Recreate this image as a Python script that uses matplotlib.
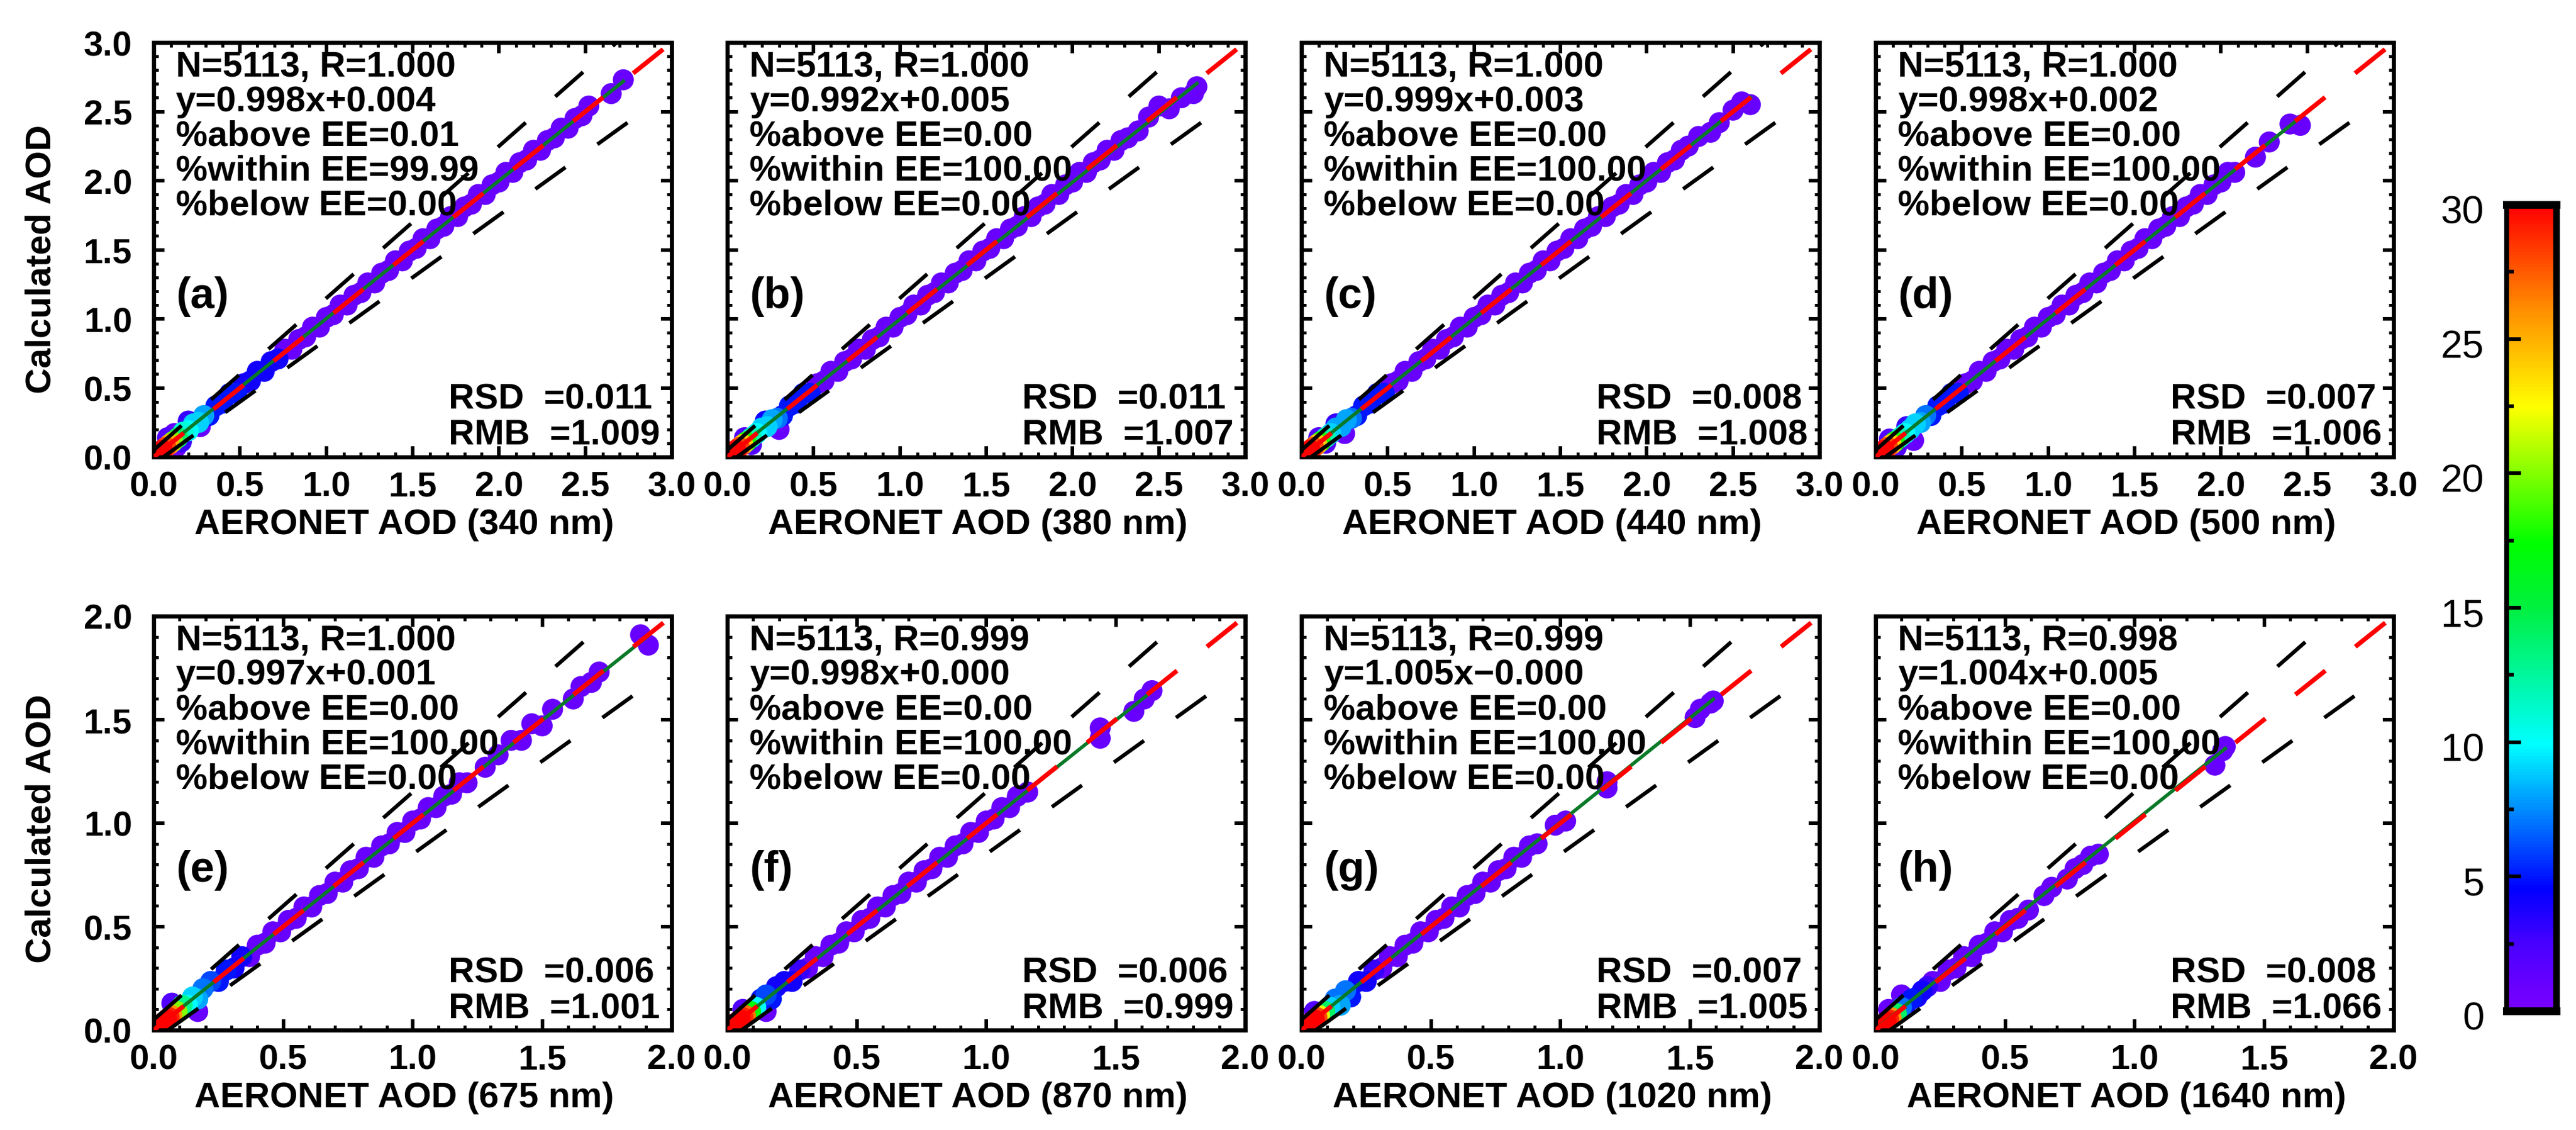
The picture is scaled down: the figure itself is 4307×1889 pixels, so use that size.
import numpy as np
import matplotlib
matplotlib.use("Agg")
import matplotlib.pyplot as plt
from matplotlib.colors import LinearSegmentedColormap
from matplotlib.ticker import MultipleLocator
from matplotlib.transforms import ScaledTranslation

plt.rcParams["font.family"] = ["Liberation Sans", "DejaVu Sans"]

W, H = 4307, 1890

panel_tags = ["(a)", "(b)", "(c)", "(d)", "(e)", "(f)", "(g)", "(h)"]
wavelengths = [340, 380, 440, 500, 675, 870, 1020, 1640]
r_values = ["1.000", "1.000", "1.000", "1.000", "1.000", "0.999", "0.999", "0.998"]
fit_labels = ["y=0.998x+0.004", "y=0.992x+0.005", "y=0.999x+0.003", "y=0.998x+0.002",
              "y=0.997x+0.001", "y=0.998x+0.000", "y=1.005x\u22120.000", "y=1.004x+0.005"]
slopes = [0.998, 0.992, 0.999, 0.998, 0.997, 0.998, 1.005, 1.004]
intercepts = [0.004, 0.005, 0.003, 0.002, 0.001, 0.000, -0.000, 0.005]
above_ee = ["0.01", "0.00", "0.00", "0.00", "0.00", "0.00", "0.00", "0.00"]
within_ee = ["99.99", "100.00", "100.00", "100.00", "100.00", "100.00", "100.00", "100.00"]
below_ee = ["0.00", "0.00", "0.00", "0.00", "0.00", "0.00", "0.00", "0.00"]
rsd_values = ["0.011", "0.011", "0.008", "0.007", "0.006", "0.006", "0.007", "0.008"]
rmb_values = ["1.009", "1.007", "1.008", "1.006", "1.001", "0.999", "1.005", "1.066"]

# the continuous run of points along the diagonal, top row (0-3) and bottom row (0-2)
top_band_x = [.32, .36, .40, .44, .48, .52, .56, .60, .64, .68, .72, .76, .80, .84, .88, .92, .96, 1.00, 1.04, 1.08,
              1.12, 1.16, 1.20, 1.24, 1.28, 1.32, 1.36, 1.40, 1.44, 1.48, 1.52, 1.56, 1.60, 1.64, 1.68, 1.72, 1.76,
              1.80, 1.84, 1.88, 1.92, 1.96, 2.00, 2.04, 2.08, 2.12, 2.16, 2.20, 2.24, 2.28, 2.32, 2.36, 2.40, 2.44,
              2.48, 2.52]
top_band_y = [.30, .37, .39, .46, .46, .53, .55, .62, .62, .69, .71, .78, .78, .85, .87, .94, .94, 1.01, 1.03, 1.10,
              1.10, 1.17, 1.19, 1.26, 1.26, 1.33, 1.35, 1.42, 1.42, 1.49, 1.51, 1.58, 1.58, 1.65, 1.67, 1.74, 1.74,
              1.81, 1.83, 1.90, 1.90, 1.97, 1.99, 2.06, 2.06, 2.13, 2.15, 2.22, 2.22, 2.29, 2.31, 2.38, 2.38, 2.45,
              2.47, 2.54]
low_band_x = [.22, .25, .28, .31, .34, .37, .40, .43, .46, .49, .52, .55, .58, .61, .64, .67, .70, .73, .76, .79,
              .82, .85, .88, .91, .94, .97, 1.00, 1.03, 1.06, 1.09, 1.12, 1.15, 1.18, 1.21]
low_band_y = [.235, .235, .29, .30, .355, .355, .41, .42, .475, .475, .53, .54, .595, .595, .65, .66, .715, .715,
              .77, .78, .835, .835, .89, .90, .955, .955, 1.01, 1.02, 1.075, 1.075, 1.13, 1.14, 1.195, 1.195]

# the rest: AERONET, calculated, density
a_x = [.27, .12, .08, .13, .20, .16, .03, .05, .07, .09, .11, .14, .17, .20, .23, .26, .29] + top_band_x + [2.65, 2.72]
a_y = [.22, .17, .14, .07, .26, .11, .03, .05, .07, .09, .11, .14, .18, .19, .24, .25, .30] + top_band_y + [2.63, 2.73]
a_d = [1, 1, 2, 1, 3, 3, 30, 30, 28, 25, 20, 14, 11, 10, 9, 9, 8] + [5] * 5 + [4] * 6 + [1] * 47

b_x = [.30, .10, .14, .22, .03, .05, .07, .09, .11, .14, .17, .20, .23, .26, .29] + top_band_x[:51] + [2.38, 2.44, 2.50, 2.56, 2.63, 2.70, 2.72]
b_y = [.20, .14, .09, .26, .03, .05, .07, .09, .11, .14, .17, .21, .22, .27, .28] + top_band_y[:51] + [2.36, 2.46, 2.54, 2.52, 2.60, 2.63, 2.68]
b_d = [1, 2, 2, 4, 30, 30, 28, 24, 18, 12, 10, 9, 9, 8, 7] + [5] * 5 + [1] * 53

c_x = [.25, .10, .14, .20, .03, .05, .07, .09, .11, .14, .17, .20, .23, .26, .29] + top_band_x[:48] + [2.24, 2.30, 2.37, 2.42, 2.50, 2.55, 2.60]
c_y = [.17, .14, .10, .24, .03, .05, .07, .09, .11, .14, .17, .21, .22, .27, .28] + top_band_y[:48] + [2.25, 2.32, 2.35, 2.42, 2.51, 2.57, 2.55]
c_d = [1, 2, 2, 3, 30, 30, 28, 24, 18, 12, 9, 8, 8, 8, 7] + [5] * 5 + [1] * 50

d_x = [.22, .08, .12, .18, .03, .05, .07, .09, .11, .14, .17, .20, .23, .26, .29] + top_band_x[:45] + [2.20, 2.28, 2.40, 2.46]
d_y = [.12, .13, .07, .22, .03, .05, .07, .09, .11, .14, .17, .20, .24, .25, .30] + top_band_y[:45] + [2.17, 2.28, 2.41, 2.40]
d_d = [1, 2, 2, 3, 30, 30, 28, 24, 18, 12, 10, 9, 9, 8, 7] + [5] * 5 + [1] * 44

e_x = [.17, .07, .02, .03, .04, .05, .06, .07, .09, .11, .13, .15, .17, .19] + low_band_x + [1.28, 1.33, 1.38, 1.42, 1.46, 1.50, 1.54, 1.62, 1.65, 1.69, 1.72, 1.88, 1.91]
e_y = [.09, .13, .02, .03, .04, .05, .06, .07, .09, .12, .12, .16, .15, .20] + low_band_y + [1.27, 1.33, 1.40, 1.40, 1.48, 1.47, 1.55, 1.60, 1.66, 1.68, 1.73, 1.91, 1.86]
e_d = [1, 2, 30, 30, 30, 30, 29, 26, 20, 13, 10, 9, 8, 7] + [6, 5, 5, 4, 4] + [1] * 42

f_x = [.15, .06, .02, .03, .04, .05, .06, .07, .09, .11, .13, .15, .17, .19] + low_band_x[:31] + [1.16, 1.44, 1.44, 1.57, 1.61, 1.64]
f_y = [.09, .10, .02, .03, .04, .05, .06, .07, .09, .11, .15, .17, .15, .21] + low_band_y[:31] + [1.15, 1.46, 1.41, 1.54, 1.60, 1.64]
f_d = [1, 2, 30, 30, 30, 30, 29, 27, 17, 10, 5, 6, 5, 4] + [4, 4, 3] + [1] * 34

g_x = [.05, .02, .03, .04, .05, .06, .07, .09, .11, .13, .15, .17, .19] + low_band_x[:24] + [.98, 1.02, 1.18, 1.18, 1.52, 1.54, 1.58, 1.59]
g_y = [.09, .02, .03, .04, .05, .06, .07, .09, .11, .15, .12, .19, .16] + low_band_y[:24] + [.99, 1.01, 1.20, 1.17, 1.51, 1.55, 1.58, 1.59]
g_d = [2, 30, 30, 30, 30, 28, 22, 14, 9, 7, 8, 7, 5] + [4, 4, 3] + [1] * 29

h_x = [.05, .10, .02, .03, .04, .05, .06, .08, .10, .12, .14, .16, .18, .20] + low_band_x[:12] + [.59, .65, .68, .74, .77, .80, .83, .86, 1.31, 1.34, 1.35]
h_y = [.10, .17, .02, .03, .04, .05, .06, .08, .11, .13, .15, .16, .19, .21] + low_band_y[:12] + [.58, .65, .69, .73, .78, .80, .84, .85, 1.28, 1.35, 1.37]
h_d = [1, 1, 30, 30, 30, 29, 26, 14, 7, 4, 5, 4, 4, 3] + [1] * 23

panel_x = [a_x, b_x, c_x, d_x, e_x, f_x, g_x, h_x]
panel_y = [a_y, b_y, c_y, d_y, e_y, f_y, g_y, h_y]
panel_d = [a_d, b_d, c_d, d_d, e_d, f_d, g_d, h_d]

# rainbow of the colour bar, purple at 0 and red at 30
density_cmap = LinearSegmentedColormap.from_list(
    "density",
    [(0.0, "#7a00ff"), (0.08, "#4a00ff"), (0.15, "#0000ff"), (0.33, "#00ffff"),
     (0.5, "#00f040"), (0.58, "#00ff00"), (0.75, "#ffff00"), (0.87, "#ff9000"), (1.0, "#ff0000")])


def px_axes(fig, left, top, right, bottom):
    return fig.add_axes([left / W, 1 - bottom / H, (right - left) / W, (bottom - top) / H])


def draw_panel(ax, i, limit, top_h):
    xs, ys, ds = np.array(panel_x[i]), np.array(panel_y[i]), np.array(panel_d[i])
    order = np.argsort(ds)
    ax.scatter(xs[order], ys[order], c=ds[order], s=640, cmap=density_cmap, vmin=0, vmax=30,
               linewidths=0, zorder=2)

    fit_x = np.array([xs.min(), xs.max()])
    ax.plot(fit_x, slopes[i] * fit_x + intercepts[i], color="#0a7a28", lw=4.2, zorder=3)

    # expected error envelope, y = 1.1x + 0.05 and y = 0.9x - 0.05
    upper_x = np.array([0, (limit - 0.05) / 1.1])
    ax.plot(upper_x, 1.1 * upper_x + 0.05, color="black", lw=4.6, zorder=4,
            ls=(0, (9.7, 10.3)), dash_capstyle="butt")
    lower_x = np.array([0.05 / 0.9, limit - 0.1])
    ax.plot(lower_x, 0.9 * lower_x - 0.05, color="black", lw=4.6, zorder=4,
            ls=(0, (9.7, 10.3)), dash_capstyle="butt")
    ax.plot([0, limit], [0, limit], color="#ff0000", lw=5.5, zorder=5,
            ls=(0, (8.4, 8.4)), dash_capstyle="butt")

    ax.set_xlim(0, limit)
    ax.set_ylim(0, limit)
    ax.xaxis.set_major_locator(MultipleLocator(0.5))
    ax.yaxis.set_major_locator(MultipleLocator(0.5))
    ax.xaxis.set_minor_locator(MultipleLocator(0.1))
    ax.yaxis.set_minor_locator(MultipleLocator(0.1))
    ax.xaxis.set_major_formatter("{x:.1f}")
    ax.yaxis.set_major_formatter("{x:.1f}")
    ax.tick_params(which="major", direction="in", top=True, right=True, length=13, width=4.3,
                   labelsize=42, pad=16)
    ax.tick_params(which="minor", direction="in", top=True, right=True, length=5.5, width=3.6)
    ax.tick_params(axis="y", which="major", pad=26)
    for label in ax.get_xticklabels() + ax.get_yticklabels():
        label.set_fontweight("bold")
    if i % 4 != 0:
        ax.tick_params(axis="y", labelleft=False)
    for spine in ax.spines.values():
        spine.set_linewidth(5)

    lines = [f"N=5113, R={r_values[i]}", fit_labels[i], f"%above EE={above_ee[i]}",
             f"%within EE={within_ee[i]}", f"%below EE={below_ee[i]}"]
    for k, line in enumerate(lines):
        ax.text(37 / 866, 1 - (40 + 58 * k) / top_h, line, transform=ax.transAxes, fontsize=43,
                fontweight="bold", va="center", zorder=6)
    ax.text(37 / 866, 1 - 424 / top_h, panel_tags[i], transform=ax.transAxes, fontsize=52,
            fontweight="bold", va="center", zorder=6)
    ax.text(493 / 866, 1 - 596 / top_h, f"RSD  ={rsd_values[i]}", transform=ax.transAxes,
            fontsize=43, fontweight="bold", va="center", zorder=6)
    ax.text(493 / 866, 1 - 656 / top_h, f"RMB  ={rmb_values[i]}", transform=ax.transAxes,
            fontsize=43, fontweight="bold", va="center", zorder=6)
    ax.set_xlabel(f"AERONET AOD ({wavelengths[i]} nm)", fontsize=43, fontweight="bold",
                  labelpad=6, x=0.484)


fig = plt.figure(figsize=(W / 100, H / 100), dpi=100)

lefts = [257, 1216, 2176, 3136]
for i in range(8):
    col = i % 4
    if i < 4:
        ax = px_axes(fig, lefts[col], 72, lefts[col] + 866, 765)
        draw_panel(ax, i, 3.0, 693)
    else:
        ax = px_axes(fig, lefts[col], 1031, lefts[col] + 866, 1723)
        draw_panel(ax, i, 2.0, 692)

fig.text(69 / W, 1 - 433 / H, "Calculated AOD", rotation=90, fontsize=43, fontweight="bold",
         ha="center", va="center")
fig.text(69 / W, 1 - 1385 / H, "Calculated AOD", rotation=90, fontsize=43, fontweight="bold",
         ha="center", va="center")

# colour bar
cax = px_axes(fig, 4191, 343, 4274, 1691)
gradient = np.linspace(0, 30, 256).reshape(-1, 1)
cax.imshow(gradient, cmap=density_cmap, vmin=0, vmax=30, origin="lower", aspect="auto",
           extent=[0, 1, 0, 30])
cax.set_xticks([])
cax.yaxis.set_major_locator(MultipleLocator(5))
cax.yaxis.set_minor_locator(MultipleLocator(2.5))
cax.tick_params(axis="y", which="major", direction="in", length=17, width=4.5, labelsize=47, pad=27)
cax.tick_params(axis="y", which="minor", direction="in", length=8.6, width=4.5)
for label in cax.get_yticklabels():
    label.set_transform(label.get_transform() + ScaledTranslation(0, -0.07, fig.dpi_scale_trans))
cax.spines["left"].set_linewidth(5.8)
cax.spines["right"].set_linewidth(8)
cax.spines["top"].set_linewidth(9.4)
cax.spines["bottom"].set_linewidth(9.4)

fig.savefig("out.png", dpi=100)
